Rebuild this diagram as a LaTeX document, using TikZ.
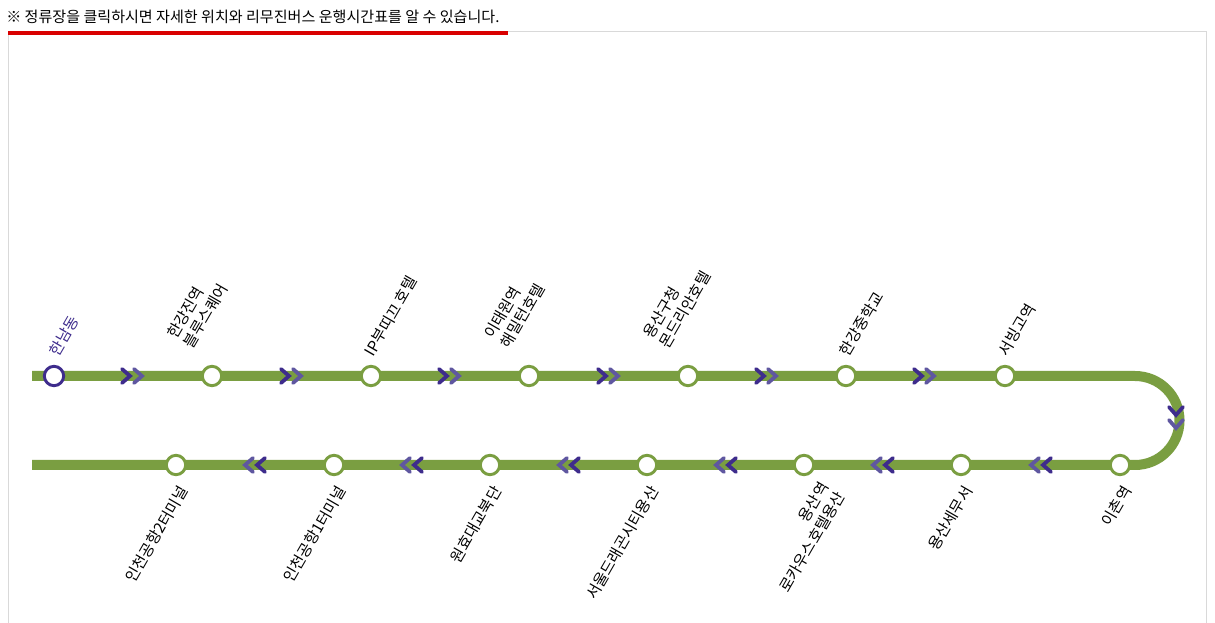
\documentclass[tikz,border=0pt]{standalone}
\usepackage{fontspec}
\setmainfont{Noto Sans CJK KR}
\begin{document}
\begin{tikzpicture}[x=0.75pt,y=-0.75pt,
  line/.style={draw=lgreen,line width=7.5pt},
  stn/.style={circle,draw=lgreen,fill=white,line width=2.2pt,minimum size=14.5pt,inner sep=0},
  chev/.style={line width=2.8pt,line cap=round,line join=miter},
  tlab/.style={rotate=60,anchor=south west,align=left,font=\fontsize{11.5pt}{14pt}\selectfont,inner sep=0},
  blab/.style={rotate=60,anchor=north east,align=right,font=\fontsize{11.5pt}{14pt}\selectfont,inner sep=0}]
\definecolor{lgreen}{HTML}{7A9E41}
\definecolor{dpur}{HTML}{3E2C8C}
\definecolor{lpur}{HTML}{5F57A0}
\useasboundingbox (0,0) rectangle (1215,623);
\fill[white] (0,0) rectangle (1215,623);
\draw[gray!30,line width=0.75pt] (8,623) -- (8,32) -- (1206,32) -- (1206,623);
\draw[red!85!black,line width=3pt] (8,33) -- (508,33);
\node[anchor=west,inner sep=0,font=\fontsize{11.3pt}{12pt}\selectfont] (hdr) at (6,17) {※ 정류장을 클릭하시면 자세한 위치와 리무진버스 운행시간표를 알 수 있습니다.};
\coordinate (ts) at (32,376);
\coordinate (te) at (1135,376);
\coordinate (be) at (32,465);
\draw[line] (ts) -- (te) arc[start angle=-90,end angle=90,radius=44.5] -- (be);
% chevrons
\foreach \x in {135,294,452,611,769,927}{
  \draw[chev,dpur] (\x-13,369) -- (\x-5,376) -- (\x-13,383);
  \draw[chev,lpur] (\x-1,369) -- (\x+7,376) -- (\x-1,383);
}
\foreach \x in {1040,882,725,568,411,254}{
  \draw[chev,dpur] (\x+11,458) -- (\x+3,465) -- (\x+11,472);
  \draw[chev,lpur] (\x-1,458) -- (\x-9,465) -- (\x-1,472);
}
\draw[chev,dpur] (1169,407) -- (1176,415) -- (1183,407);
\draw[chev,lpur] (1169,420) -- (1176,428) -- (1183,420);
% stations
\node[stn,draw=dpur] (s1) at (54,376) {};
\node[stn] (s2) at (212,376) {};
\node[stn] (s3) at (371,376) {};
\node[stn] (s4) at (529,376) {};
\node[stn] (s5) at (688,376) {};
\node[stn] (s6) at (846,376) {};
\node[stn] (s7) at (1005,376) {};
\node[stn] (b1) at (1120,465) {};
\node[stn] (b2) at (961,465) {};
\node[stn] (b3) at (804,465) {};
\node[stn] (b4) at (647,465) {};
\node[stn] (b5) at (490,465) {};
\node[stn] (b6) at (334,465) {};
\node[stn] (b7) at (176,465) {};
% labels
\node[tlab,text=dpur] (l1) at (60,358) {한남동};
\node[tlab] (l2) at (194,350) {한강진역\\블루스퀘어};
\node[tlab] (l3) at (375,358) {IP부띠끄 호텔};
\node[tlab] (l4) at (511,350) {이태원역\\해밀턴호텔};
\node[tlab] (l5) at (670,350) {용산구청\\몬드리안호텔};
\node[tlab] (l6) at (850,358) {한강중학교};
\node[tlab] (l7) at (1009,358) {서빙고역};
\node[blab] (m1) at (1121,484) {이촌역};
\node[blab] (m2) at (962,484) {용산세무서};
\node[blab] (m3) at (818,480) {용산역\\로카우스호텔용산};
\node[blab] (m4) at (648,484) {서울드래곤시티용산};
\node[blab] (m5) at (491,484) {원효대교북단};
\node[blab] (m6) at (335,484) {인천공항1터미널};
\node[blab] (m7) at (177,484) {인천공항2터미널};
\end{tikzpicture}
\end{document}
